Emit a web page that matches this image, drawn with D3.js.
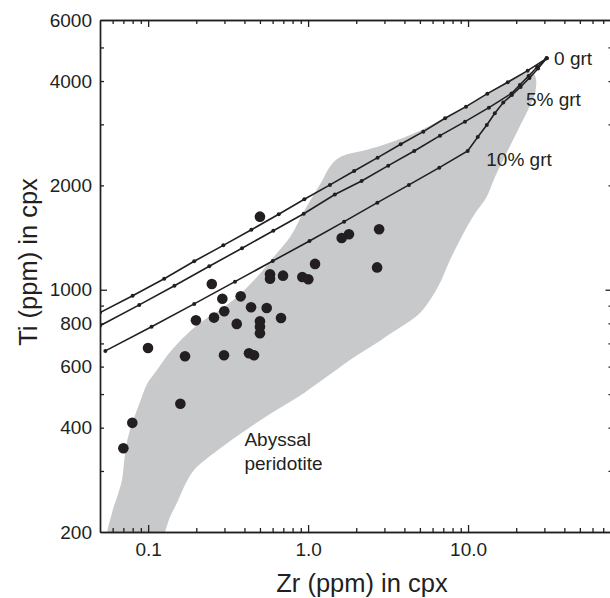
<!DOCTYPE html>
<html>
<head>
<meta charset="utf-8">
<script src="https://cdn.jsdelivr.net/npm/d3@7"></script>
<style>
  html, body { margin: 0; padding: 0; background: #fff; }
  svg { display: block; }
  text { font-family: "Liberation Sans", Arial, sans-serif; fill: #231f20; }
</style>
</head>
<body>
<svg id="chart" width="610" height="598"></svg>
<script>
// Zr vs Ti in clinopyroxene: samples, melting models, abyssal peridotite field.

const W = 610, H = 598;
const LEFT = 100, RIGHT = 612.5, TOP = 20, BOTTOM = 532;
const INK = "#231f20";

// axis ticks
const zrMajor = [0.1, 1, 10];
const zrMajorLabels = ["0.1", "1.0", "10.0"];
const zrMinor = [0.06, 0.07, 0.08, 0.09, 0.2, 0.3, 0.4, 0.5, 0.6, 0.7, 0.8, 0.9,
  2, 3, 4, 5, 6, 7, 8, 9, 20, 30, 40, 50, 60, 70];
const tiLabelled = [200, 400, 600, 800, 1000, 2000, 4000, 6000];
const tiMajor = [1000];
const tiMinor = [300, 400, 500, 600, 700, 800, 900, 2000, 3000, 4000, 5000];

// sample data (cpx)
const sampleZr = [0.50, 0.250, 0.291, 0.379, 0.440, 0.551, 0.299, 0.258, 0.199, 0.358,
  0.677, 0.50, 0.50, 0.50, 0.0998, 0.170, 0.298, 0.427, 0.459, 0.578,
  0.578, 0.697, 0.920, 1.003, 1.105, 1.622, 1.80, 2.78, 2.70, 0.159,
  0.0796, 0.070];
const sampleTi = [1625, 1039, 942, 957, 890, 886, 867, 831, 816, 797,
  829, 811, 782, 749, 679, 643, 647, 656, 647, 1108,
  1076, 1098, 1088, 1072, 1187, 1410, 1445, 1494, 1160, 469,
  413, 349];

// melting models (residual cpx), 1% steps
const grt0Zr = [31.0, 23.6, 17.7, 13.2, 9.71, 7.18, 5.25, 3.79, 2.72, 1.94,
  1.37, 0.947, 0.655, 0.442, 0.295, 0.194, 0.126, 0.080, 0.050];
const grt0Ti = [4652, 4285, 3969, 3678, 3374, 3123, 2858, 2628, 2404, 2201,
  2006, 1824, 1651, 1490, 1343, 1208, 1076, 961, 859];

const grt5Zr = [31.0, 27.0, 23.9, 21.1, 18.7, 13.5, 9.57, 6.68, 4.61, 3.17,
  2.16, 1.47, 0.939, 0.606, 0.386, 0.241, 0.146, 0.088, 0.050];
const grt5Ti = [4652, 4392, 4137, 3898, 3683, 3352, 3054, 2783, 2513, 2280,
  2059, 1883, 1657, 1480, 1317, 1169, 1027, 904, 787];

const grt10Zr = [31.0, 27.4, 24.2, 21.3, 18.8, 16.6, 14.7, 13.1, 11.5, 9.95,
  6.61, 4.27, 2.71, 1.68, 1.02, 0.601, 0.349, 0.194, 0.105, 0.054];
const grt10Ti = [4652, 4348, 4083, 3846, 3647, 3469, 3228, 2988, 2758, 2513,
  2250, 2006, 1783, 1572, 1382, 1210, 1055, 910, 782, 666];

// abyssal peridotite field outline
const abyssalZr = [0.0569, 0.0594, 0.0639, 0.0686, 0.0706, 0.0727, 0.0770, 0.0889, 0.0984, 0.1136,
  0.137, 0.165, 0.211, 0.281, 0.359, 0.479, 0.639, 0.771, 0.929, 1.073,
  1.222, 1.351, 1.516, 1.776, 2.173, 2.94, 4.336, 6.037, 8.53, 11.88,
  15.84, 19.38, 23.03, 25.47, 26.6, 26.22, 23.71, 20.52, 17.52, 14.74,
  12.95, 11.21, 9.99, 8.906, 7.712, 6.677, 5.782, 5.008, 4.153, 3.395,
  2.62, 1.828, 1.275, 0.865, 0.578, 0.409, 0.273, 0.196, 0.175, 0.154,
  0.137, 0.117];
const abyssalTi = [190, 227, 252, 282, 316, 352, 394, 474, 535, 587,
  661, 726, 802, 874, 953, 1088, 1276, 1419, 1665, 1864,
  2059, 2245, 2384, 2464, 2514, 2616, 2796, 3008, 3279, 3575,
  3871, 4082, 4220, 4220, 4055, 3694, 3301, 2891, 2497, 2115,
  1840, 1676, 1538, 1392, 1218, 1046, 934, 857, 802, 755,
  697, 627, 556, 490, 438, 394, 345, 304, 281, 247,
  221, 190];

const labels = [
  { text: "0 grt", zr: 34.5, ti: 4450 },
  { text: "5% grt", zr: 23.0, ti: 3400 },
  { text: "10% grt", zr: 13.0, ti: 2270 },
];

const x = d3.scaleLog().domain([0.05, 80]).range([LEFT, RIGHT]);
const y = d3.scaleLog().domain([200, 6000]).range([BOTTOM, TOP]);

const svg = d3.select("#chart");

svg.append("defs").append("clipPath").attr("id", "plot")
  .append("rect").attr("x", LEFT).attr("y", TOP)
  .attr("width", RIGHT - LEFT).attr("height", BOTTOM - TOP);

const plot = svg.append("g").attr("clip-path", "url(#plot)");

// field
const field = abyssalZr.map((z, i) => [z, abyssalTi[i]]);
plot.append("path")
  .attr("d", d3.line().x((d) => x(d[0])).y((d) => y(d[1])).curve(d3.curveCatmullRomClosed.alpha(0.5))(field))
  .attr("fill", "#c8c9cb");

// model curves
const models = [[grt0Zr, grt0Ti], [grt5Zr, grt5Ti], [grt10Zr, grt10Ti]];
const line = d3.line().x((d) => x(d[0])).y((d) => y(d[1]));
models.forEach(([zs, ts]) => {
  const pts = zs.map((z, i) => [z, ts[i]]);
  const g = plot.append("g");
  g.append("path").attr("d", line(pts))
    .attr("fill", "none").attr("stroke", INK).attr("stroke-width", 1.6);
  g.selectAll("circle").data(pts).enter().append("circle")
    .attr("cx", (d) => x(d[0])).attr("cy", (d) => y(d[1]))
    .attr("r", 2).attr("fill", INK);
});

// samples
plot.append("g").selectAll("circle")
  .data(sampleZr.map((z, i) => [z, sampleTi[i]]))
  .enter().append("circle")
  .attr("cx", (d) => x(d[0])).attr("cy", (d) => y(d[1]))
  .attr("r", 5.3).attr("fill", INK);

// axes
function styleAxis(g) {
  g.selectAll("path.domain").attr("stroke", INK).attr("stroke-width", 1.4);
  g.selectAll(".tick line").attr("stroke", INK).attr("stroke-width", 1.3);
  g.selectAll(".tick text").style("font-size", "19px").attr("fill", INK);
}

const axBottom = svg.append("g").attr("transform", `translate(0,${BOTTOM})`);
axBottom.append("g").call(d3.axisBottom(x).tickValues(zrMinor).tickSize(-4).tickSizeOuter(0).tickFormat(""))
  .call(styleAxis);
axBottom.append("g").call(d3.axisBottom(x).tickValues(zrMajor).tickSize(-7).tickSizeOuter(0)
  .tickPadding(11).tickFormat((d, i) => zrMajorLabels[i]))
  .call(styleAxis);

const axTop = svg.append("g").attr("transform", `translate(0,${TOP})`);
axTop.append("g").call(d3.axisTop(x).tickValues(zrMinor).tickSize(-4).tickSizeOuter(0).tickFormat(""))
  .call(styleAxis);
axTop.append("g").call(d3.axisTop(x).tickValues(zrMajor).tickSize(-7).tickSizeOuter(0).tickFormat(""))
  .call(styleAxis);

const axLeft = svg.append("g").attr("transform", `translate(${LEFT},0)`);
axLeft.append("g").call(d3.axisLeft(y).tickValues(tiMinor).tickSize(-4).tickSizeOuter(0).tickFormat(""))
  .call(styleAxis);
axLeft.append("g").call(d3.axisLeft(y).tickValues(tiMajor).tickSize(-7).tickSizeOuter(0).tickFormat(""))
  .call(styleAxis);
axLeft.append("g").call(d3.axisLeft(y).tickValues(tiLabelled).tickSize(0).tickSizeOuter(0)
  .tickPadding(8).tickFormat(d3.format("d")))
  .call(styleAxis)
  .call((g) => g.select("path.domain").remove());

const axRight = svg.append("g").attr("transform", `translate(${RIGHT},0)`);
axRight.append("g").call(d3.axisRight(y).tickValues(tiMinor).tickSize(-4).tickSizeOuter(0).tickFormat(""))
  .call(styleAxis);
axRight.append("g").call(d3.axisRight(y).tickValues(tiMajor).tickSize(-7).tickSizeOuter(0).tickFormat(""))
  .call(styleAxis);

// axis titles
svg.append("text")
  .attr("x", 362).attr("y", 592)
  .attr("text-anchor", "middle")
  .style("font-size", "25.5px")
  .text("Zr (ppm) in cpx");

svg.append("text")
  .attr("transform", "translate(37,262) rotate(-90)")
  .attr("text-anchor", "middle")
  .style("font-size", "25.5px")
  .text("Ti (ppm) in cpx");

// annotations
svg.append("g").selectAll("text").data(labels).enter().append("text")
  .attr("x", (d) => x(d.zr)).attr("y", (d) => y(d.ti))
  .style("font-size", "19px")
  .text((d) => d.text);

const aby = svg.append("text").attr("x", x(0.4)).attr("y", y(355)).style("font-size", "19px");
aby.append("tspan").attr("x", x(0.4)).text("Abyssal");
aby.append("tspan").attr("x", x(0.4)).attr("dy", 24.5).text("peridotite");
</script>
</body>
</html>
